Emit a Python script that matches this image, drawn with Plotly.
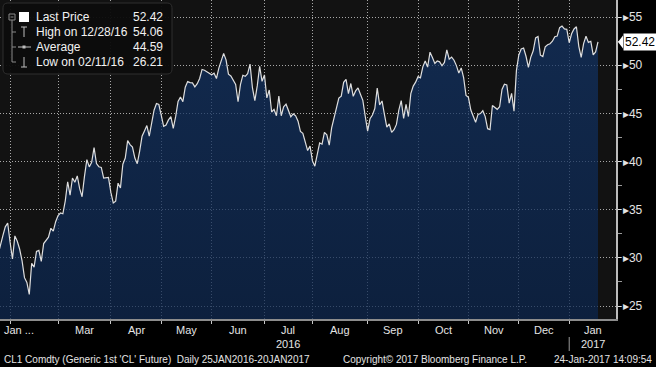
import pandas as pd
import plotly.graph_objects as go

# ---------------- data (CL1 daily settle) ----------------
JAN_2016 = [30.34, 31.45, 32.30, 33.22, 33.62]
FEB_2016 = [31.62, 29.88, 32.28, 31.72, 30.89, 29.69, 27.94, 27.45, 26.21, 29.44,
            29.04, 30.66, 30.77, 29.64, 31.48, 31.87, 32.15, 33.07, 32.78, 33.75]
MAR_2016 = [34.40, 34.66, 34.57, 35.92, 37.90, 36.50, 38.29, 37.84, 38.50, 37.18, 36.34,
            38.46, 40.20, 39.44, 39.91, 41.45, 39.79, 39.46, 39.39, 38.28, 38.32, 38.34]
APR_2016 = [36.79, 35.70, 35.89, 37.75, 37.26, 39.72, 40.36, 42.17, 41.76, 41.50, 40.36,
            39.78, 41.08, 42.63, 43.18, 43.73, 42.64, 44.04, 45.33, 46.03, 45.92]
MAY_2016 = [44.78, 43.65, 43.78, 44.32, 44.66, 43.44, 44.66, 46.23, 46.70, 46.21, 47.72,
            48.31, 48.19, 48.16, 47.75, 48.08, 48.62, 49.56, 49.48, 49.33, 49.10]
JUN_2016 = [49.01, 49.17, 48.62, 49.69, 50.36, 51.23, 50.56, 49.07, 48.88, 48.49, 48.01,
            46.21, 47.98, 48.96, 48.85, 49.13, 50.11, 47.64, 46.33, 47.85, 49.88, 48.33]
JUL_2016 = [48.99, 46.60, 47.43, 45.14, 45.41, 44.76, 46.80, 44.75, 45.68, 45.95,
            45.24, 44.65, 44.94, 44.75, 44.19, 43.13, 42.92, 41.92, 41.14, 41.60]
AUG_2016 = [40.06, 39.51, 40.83, 41.93, 41.80, 43.02, 42.77, 41.71, 43.49, 44.49, 45.74, 46.58,
            46.79, 48.22, 48.52, 47.05, 48.10, 46.77, 47.33, 47.64, 46.98, 46.35, 44.70]
SEP_2016 = [43.16, 44.44, 44.83, 45.50, 47.62, 45.88, 46.29, 44.90, 43.58, 43.91, 43.03,
            43.30, 43.85, 45.34, 46.32, 44.48, 45.93, 44.67, 47.05, 47.83, 48.24]
OCT_2016 = [48.81, 48.69, 49.83, 50.44, 49.81, 51.35, 50.79, 50.18, 50.44, 50.35, 49.94,
            50.29, 51.60, 50.63, 50.85, 50.52, 49.96, 49.18, 49.72, 48.70, 46.86]
NOV_2016 = [46.67, 45.34, 44.66, 44.07, 44.89, 44.98, 45.27, 44.66, 43.41, 43.32, 45.81,
            45.57, 45.42, 45.69, 47.49, 48.03, 47.96, 46.06, 47.08, 45.23, 49.44]
DEC_2016 = [51.06, 51.68, 51.79, 50.93, 49.77, 50.84, 51.50, 52.83, 52.98, 51.04, 50.90,
            51.90, 52.12, 52.23, 52.49, 52.95, 53.02, 53.90, 54.06, 53.77, 53.72]
JAN_2017 = [52.33, 53.26, 53.76, 53.99, 51.96, 50.82, 52.25, 53.01, 52.37, 52.48, 51.08,
            51.37, 52.42]

HOLIDAYS = ["2016-02-15", "2016-03-25", "2016-05-30", "2016-07-04", "2016-09-05",
            "2016-11-24", "2016-12-26", "2017-01-02", "2017-01-16"]
START, END = "2016-01-25", "2017-01-20"

MONTH_LABELS = ["Mar", "Apr", "May", "Jun", "Jul", "Aug", "Sep", "Oct", "Nov", "Dec", "Jan"]
YEAR_LABELS = {"Jul": "2016", "Jan": "2017"}
Y_TICKS = [25, 30, 35, 40, 45, 50, 55]
AVERAGE = 44.59

LEGEND_ROWS = ["Last Price", "High on {hd}", "Average", "Low on {ld}"]
FOOTER_LEFT = "CL1 Comdty (Generic 1st 'CL' Future)  Daily 25JAN2016-20JAN2017"
FOOTER_MID = "Copyright\u00a9 2017 Bloomberg Finance L.P."
FOOTER_RIGHT = "24-Jan-2017 14:09:54"

# ---------------- build series ----------------
values = (JAN_2016 + FEB_2016 + MAR_2016 + APR_2016 + MAY_2016 + JUN_2016 + JUL_2016 +
          AUG_2016 + SEP_2016 + OCT_2016 + NOV_2016 + DEC_2016 + JAN_2017)
days = pd.bdate_range(START, END)
days = days[~days.isin(pd.to_datetime(HOLIDAYS))]
assert len(days) == len(values), (len(days), len(values))
cats = [d.strftime("%Y-%m-%d") for d in days]
ser = pd.Series(values, index=days)

# first trading day of each month (tick / grid positions)
month_key = days.to_period("M")
starts_idx = [i for i in range(len(days)) if i == 0 or month_key[i] != month_key[i - 1]][1:]
start_cats = [cats[i] for i in starts_idx]

last = values[-1]
hi_d, lo_d = ser.idxmax(), ser.idxmin()
hi, lo = ser.max(), ser.min()

W, H = 656, 367
ML, MR, MT, MB = 0, 40, 0, 48
PW, PH = W - ML - MR, H - MT - MB
XR = [0.8, 257.5]
YR = [23.65, 56.77]

FONT = "Liberation Sans, Arial, sans-serif"
TXT = "#e4e4e4"
GRIDC = "#a8a8a8"


def px(x):
    return x / PW


def py(y):
    return 1 - y / PH


fig = go.Figure()
fig.add_trace(go.Scatter(
    x=cats, y=values, mode="lines",
    line=dict(color="#dedede", width=1.2),
    fill="tozeroy",
    fillgradient=dict(type="vertical",
                      colorscale=[[0, "rgba(5,27,61,0.72)"], [1, "rgba(18,51,101,0.72)"]]),
    hoverinfo="skip", showlegend=False,
))

shapes = []
# legend box
bx0, bx1, by0, by1, r = px(3), px(172), py(3), py(74), 0.008
rx, ry = r, r * PW / PH
shapes.append(dict(
    type="path", xref="paper", yref="paper", layer="above",
    path=(f"M {bx0+rx},{by0} L {bx1-rx},{by0} Q {bx1},{by0} {bx1},{by0-ry} "
          f"L {bx1},{by1+ry} Q {bx1},{by1} {bx1-rx},{by1} L {bx0+rx},{by1} "
          f"Q {bx0},{by1} {bx0},{by1+ry} L {bx0},{by0-ry} Q {bx0},{by0} {bx0+rx},{by0} Z"),
    fillcolor="rgba(12,12,12,0.96)", line=dict(color="#2e2e2e", width=1)))

ICON = "#bdbdbd"


def seg(x0, y0, x1, y1, color=ICON, w=1):
    shapes.append(dict(type="line", xref="paper", yref="paper", layer="above",
                       x0=px(x0), x1=px(x1), y0=py(y0), y1=py(y1),
                       line=dict(color=color, width=w)))


rows_y = [17, 32, 47, 62]
# tree
shapes.append(dict(type="rect", xref="paper", yref="paper", layer="above",
                   x0=px(9), x1=px(15), y0=py(14), y1=py(20),
                   line=dict(color="#8a8a8a", width=1), fillcolor="rgba(0,0,0,0)"))
seg(10.5, 17, 13.5, 17, "#8a8a8a")
seg(12, 20, 12, rows_y[3], "#8a8a8a")
for yy in rows_y[1:]:
    seg(12, yy, 16, yy, "#8a8a8a")
# icons
shapes.append(dict(type="rect", xref="paper", yref="paper", layer="above",
                   x0=px(19), x1=px(29), y0=py(12), y1=py(22),
                   line=dict(width=0), fillcolor="white"))
seg(24, 27, 24, 37)
seg(21, 27, 27, 27)
seg(18, 47, 31, 47)
shapes.append(dict(type="rect", xref="paper", yref="paper", layer="above",
                   x0=px(22.5), x1=px(25.5), y0=py(45.5), y1=py(48.5),
                   line=dict(width=0), fillcolor=ICON))
seg(24, 57, 24, 67)
seg(21, 67, 27, 67)

# last price tag arrow
shapes.append(dict(type="path", xref="paper", yref="y", xsizemode="pixel",
                   ysizemode="pixel", xanchor=1, yanchor=last,
                   path="M 2,0 L 7,6.5 L 7,-6.5 Z", fillcolor="white",
                   line=dict(width=0), layer="above"))
# year separator
shapes.append(dict(type="line", xref="x", yref="paper",
                   x0=start_cats[-1], x1=start_cats[-1], y0=py(337), y1=py(351),
                   line=dict(color="#9a9a9a", width=1)))

ann = []
leg_vals = [last, hi, AVERAGE, lo]
for i, (lab, v) in enumerate(zip(LEGEND_ROWS, leg_vals)):
    t = lab.format(hd=hi_d.strftime("%m/%d/%y"), ld=lo_d.strftime("%m/%d/%y"))
    ann.append(dict(xref="paper", yref="paper", x=px(34), y=py(rows_y[i]), text=t,
                    xanchor="left", yanchor="middle", showarrow=False,
                    font=dict(family=FONT, size=12, color="#f2f2f2")))
    ann.append(dict(xref="paper", yref="paper", x=px(165), y=py(rows_y[i]),
                    text=f"{v:.2f}", xanchor="right", yanchor="middle", showarrow=False,
                    font=dict(family=FONT, size=12, color="#f2f2f2")))

# month labels centred between month ticks
bounds = starts_idx + [XR[1]]
ann.append(dict(xref="paper", yref="paper", x=px(2), y=0, yshift=-11, text="Jan ...",
                xanchor="left", yanchor="middle", showarrow=False,
                font=dict(family=FONT, size=11, color=TXT)))
for k, lab in enumerate(MONTH_LABELS):
    xm = (bounds[k + 1] + bounds[k + 2]) / 2
    ann.append(dict(xref="x", yref="paper", x=xm, y=0, yshift=-11, text=lab,
                    xanchor="center", yanchor="middle", showarrow=False,
                    font=dict(family=FONT, size=11, color=TXT)))
    if lab in YEAR_LABELS:
        ann.append(dict(xref="x", yref="paper", x=xm, y=0, yshift=-25,
                        text=YEAR_LABELS[lab], xanchor="center", yanchor="middle",
                        showarrow=False, font=dict(family=FONT, size=11, color=TXT)))

# footer
for t, xx, anc in [(FOOTER_LEFT, 2, "left"), (FOOTER_MID, 341, "left"),
                   (FOOTER_RIGHT, 654, "right")]:
    ann.append(dict(xref="paper", yref="paper", x=px(xx), y=0, yshift=-40, text=t,
                    xanchor=anc, yanchor="middle", showarrow=False,
                    font=dict(family=FONT, size=10, color=TXT)))

# last price tag
ann.append(dict(xref="paper", yref="y", x=1, xshift=7, y=last, text=f"{last:.2f}",
                xanchor="left", yanchor="middle", showarrow=False, bgcolor="white",
                borderpad=1, font=dict(family=FONT, size=12, color="black")))

fig.update_layout(
    width=W, height=H, autosize=False,
    margin=dict(l=ML, r=MR, t=MT, b=MB, pad=0),
    paper_bgcolor="#000000", plot_bgcolor="#121212",
    showlegend=False, hovermode=False,
    shapes=shapes, annotations=ann,
    xaxis=dict(type="category", range=XR, tickvals=start_cats,
               ticktext=[""] * len(start_cats), ticks="outside", ticklen=3,
               tickcolor="#c8c8c8", showline=True, linecolor="#8c8c8c", linewidth=1.5,
               showgrid=True, gridcolor=GRIDC, gridwidth=1, griddash="1px,2px",
               zeroline=False, fixedrange=True),
    yaxis=dict(side="right", range=YR, tickvals=Y_TICKS,
               ticktext=[f"\u25b8{v}" for v in Y_TICKS],
               ticks="outside", ticklen=3, tickcolor="#e0e0e0",
               tickfont=dict(family=FONT, size=12, color=TXT),
               minor=dict(dtick=2.5, tick0=25, ticks="outside", ticklen=4,
                          tickcolor="#9a9a9a", showgrid=False),
               showline=True, linecolor="#bcbcbc", linewidth=1.5,
               showgrid=True, gridcolor=GRIDC, gridwidth=1, griddash="1px,2px",
               zeroline=False, fixedrange=True),
)

fig.write_html(
    "out.html",
    config={"displayModeBar": False, "staticPlot": True},
    post_script="document.body.style.margin='0';document.body.style.background='#000';",
)
